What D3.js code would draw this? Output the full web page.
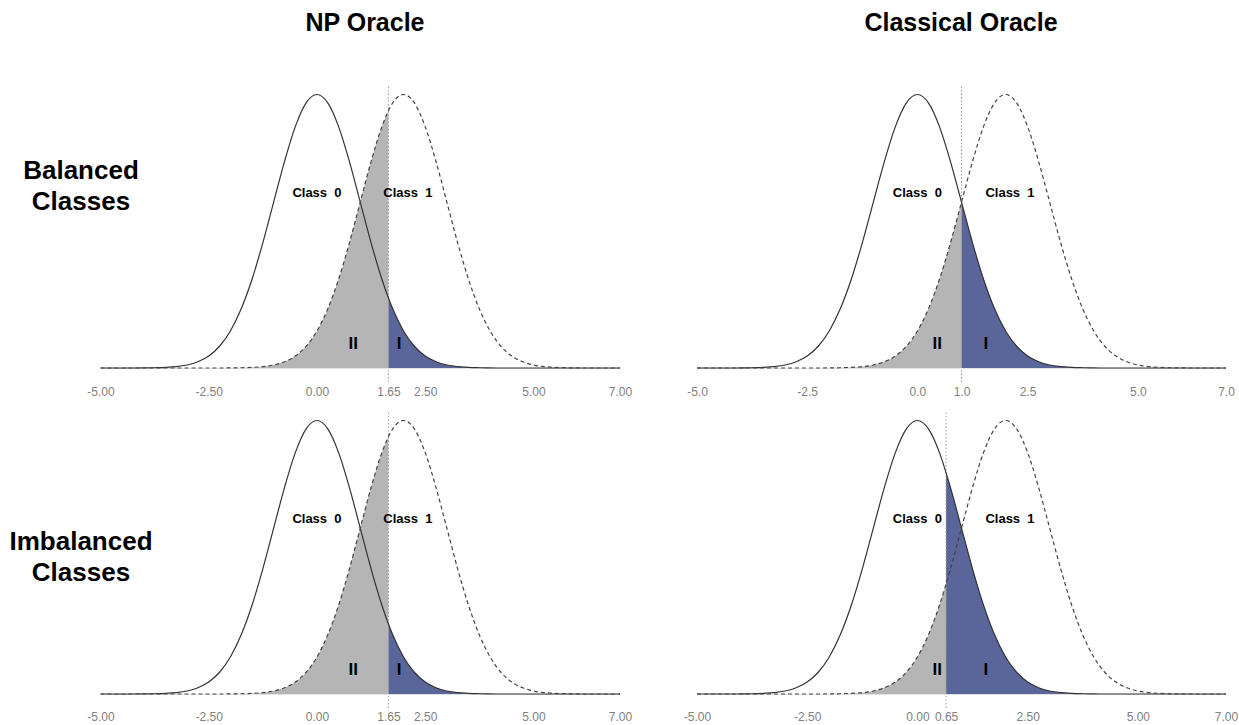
<!DOCTYPE html>
<html>
<head>
<meta charset="utf-8">
<script src="https://cdn.jsdelivr.net/npm/d3@7"></script>
<style>
  body { margin: 0; background: #fff; }
  svg { display: block; font-family: "Liberation Sans", Arial, Helvetica, sans-serif; }
</style>
</head>
<body>
<svg id="chart" width="1239" height="725"></svg>
<script>
// grid of x values where the densities were read (-5 to 7, step 0.25)
const densityX = [
  -5, -4.75, -4.5, -4.25, -4, -3.75, -3.5, -3.25, -3, -2.75, -2.5, -2.25,
  -2, -1.75, -1.5, -1.25, -1, -0.75, -0.5, -0.25, 0, 0.25, 0.5, 0.75,
  1, 1.25, 1.5, 1.75, 2, 2.25, 2.5, 2.75, 3, 3.25, 3.5, 3.75,
  4, 4.25, 4.5, 4.75, 5, 5.25, 5.5, 5.75, 6, 6.25, 6.5, 6.75, 7
];

// Class 0 density (solid curve)
const class0Density = [
  0, 0, 0, 0, 0.0001, 0.0004, 0.0009, 0.0020, 0.0044, 0.0091, 0.0175, 0.0317,
  0.0540, 0.0863, 0.1295, 0.1826, 0.2420, 0.3011, 0.3521, 0.3867, 0.3989, 0.3867, 0.3521, 0.3011,
  0.2420, 0.1826, 0.1295, 0.0863, 0.0540, 0.0317, 0.0175, 0.0091, 0.0044, 0.0020, 0.0009, 0.0004,
  0.0001, 0, 0, 0, 0, 0, 0, 0, 0, 0, 0, 0, 0
];

// Class 1 density (dashed curve)
const class1Density = [
  0, 0, 0, 0, 0, 0, 0, 0, 0, 0, 0, 0,
  0.0001, 0.0004, 0.0009, 0.0020, 0.0044, 0.0091, 0.0175, 0.0317, 0.0540, 0.0863, 0.1295, 0.1826,
  0.2420, 0.3011, 0.3521, 0.3867, 0.3989, 0.3867, 0.3521, 0.3011, 0.2420, 0.1826, 0.1295, 0.0863,
  0.0540, 0.0317, 0.0175, 0.0091, 0.0044, 0.0020, 0.0009, 0.0004, 0.0001, 0, 0, 0, 0
];

const columnTitles = ["NP Oracle", "Classical Oracle"];
const rowTitles = [["Balanced", "Classes"], ["Imbalanced", "Classes"]];

// panel order: NP balanced, classical balanced, NP imbalanced, classical imbalanced
const thresholds = [1.65, 1.0, 1.65, 0.65];
const tickValues = [
  [-5, -2.5, 0, 1.65, 2.5, 5, 7],
  [-5, -2.5, 0, 1.0, 2.5, 5, 7],
  [-5, -2.5, 0, 1.65, 2.5, 5, 7],
  [-5, -2.5, 0, 0.65, 2.5, 5, 7]
];
const tickDecimals = [2, 1, 2, 2];
const classLabels = ["Class  0", "Class  1"];
const classLabelX = [0, 2.1];
const classLabelY = 0.255;
// error labels "II" (type II) and "I" (type I), x in data units
const errorLabels = ["II", "I"];
const errorLabelX = [[0.84, 1.9], [0.45, 1.55], [0.84, 1.9], [0.45, 1.55]];

const svg = d3.select("#chart");

// layout
const cols = [{ x0: 100.5, x1: 620, title: 365 }, { x0: 697, x1: 1226, title: 961 }];
const rows = [{ base: 368, top: 94.5, ticks: 19.5 }, { base: 694, top: 420.5, ticks: 18.5 }];

const grey = "#b5b5b5";
const blue = "#5a6599";

const pts0 = densityX.map((x, i) => ({ x, y: class0Density[i] }));
const pts1 = densityX.map((x, i) => ({ x, y: class1Density[i] }));

columnTitles.forEach((t, c) => {
  svg.append("text")
    .attr("x", cols[c].title)
    .attr("y", 31)
    .attr("text-anchor", "middle")
    .style("font-size", "25px")
    .style("font-weight", "bold")
    .text(t);
});

rowTitles.forEach((lines, r) => {
  const cy = r === 0 ? 179 : 550;
  lines.forEach((l, k) => {
    svg.append("text")
      .attr("x", 81)
      .attr("y", cy + k * 31)
      .attr("text-anchor", "middle")
      .style("font-size", "26px")
      .style("font-weight", "bold")
      .text(l);
  });
});

thresholds.forEach((thr, p) => {
  const r = Math.floor(p / 2), c = p % 2;
  const x = d3.scaleLinear().domain([-5, 7]).range([cols[c].x0, cols[c].x1]);
  const y = d3.scaleLinear().domain([0, 0.3989]).range([rows[r].base, rows[r].top]);
  const g = svg.append("g");

  const area = d3.area().x(d => x(d.x)).y0(y(0)).y1(d => y(d.y)).curve(d3.curveMonotoneX);
  const line = d3.line().x(d => x(d.x)).y(d => y(d.y)).curve(d3.curveMonotoneX);

  const leftId = "clipL" + p, rightId = "clipR" + p;
  g.append("clipPath").attr("id", leftId).append("rect")
    .attr("x", x(-5) - 2).attr("y", rows[r].top - 10)
    .attr("width", x(thr) - x(-5) + 2).attr("height", rows[r].base - rows[r].top + 12);
  g.append("clipPath").attr("id", rightId).append("rect")
    .attr("x", x(thr)).attr("y", rows[r].top - 10)
    .attr("width", x(7) - x(thr) + 2).attr("height", rows[r].base - rows[r].top + 12);

  // type II error: class 1 left of threshold
  g.append("path").datum(pts1)
    .attr("d", area).attr("fill", grey)
    .attr("clip-path", `url(#${leftId})`);
  // type I error: class 0 right of threshold
  g.append("path").datum(pts0)
    .attr("d", area).attr("fill", blue)
    .attr("clip-path", `url(#${rightId})`);

  // baseline
  g.append("line")
    .attr("x1", x(-4.9)).attr("x2", x(7))
    .attr("y1", y(0) + 0.5).attr("y2", y(0) + 0.5)
    .attr("stroke", "#e4e4e4").attr("stroke-width", 1);

  // threshold
  g.append("line")
    .attr("x1", x(thr)).attr("x2", x(thr))
    .attr("y1", rows[r].top - 8).attr("y2", rows[r].base + 14)
    .attr("stroke", "#999").attr("stroke-width", 1)
    .attr("stroke-dasharray", "1.5,2");

  g.append("path").datum(pts0)
    .attr("d", line).attr("fill", "none")
    .attr("stroke", "#333").attr("stroke-width", 1.2);
  g.append("path").datum(pts1)
    .attr("d", line).attr("fill", "none")
    .attr("stroke", "#444").attr("stroke-width", 1.2)
    .attr("stroke-dasharray", "4,3");

  classLabels.forEach((t, k) => {
    g.append("text")
      .attr("x", x(classLabelX[k]))
      .attr("y", y(classLabelY) + 4)
      .attr("text-anchor", "middle")
      .style("font-size", "13px")
      .style("font-weight", "bold")
      .style("white-space", "pre")
      .text(t);
  });

  errorLabels.forEach((t, k) => {
    g.append("text")
      .attr("x", x(errorLabelX[p][k]))
      .attr("y", rows[r].base - 19)
      .attr("text-anchor", "middle")
      .style("font-size", "17px")
      .style("font-weight", "bold")
      .text(t);
  });

  const axis = d3.axisBottom(x)
    .tickValues(tickValues[p])
    .tickFormat(d => d.toFixed(tickDecimals[p]))
    .tickSize(0)
    .tickPadding(rows[r].ticks);
  const ax = g.append("g")
    .attr("transform", `translate(0,${rows[r].base})`)
    .call(axis);
  ax.select(".domain").remove();
  ax.selectAll("text")
    .attr("fill", "#808080")
    .style("font-size", "12px")
    .style("font-family", "'Liberation Sans', Arial, sans-serif");
});
</script>
</body>
</html>
